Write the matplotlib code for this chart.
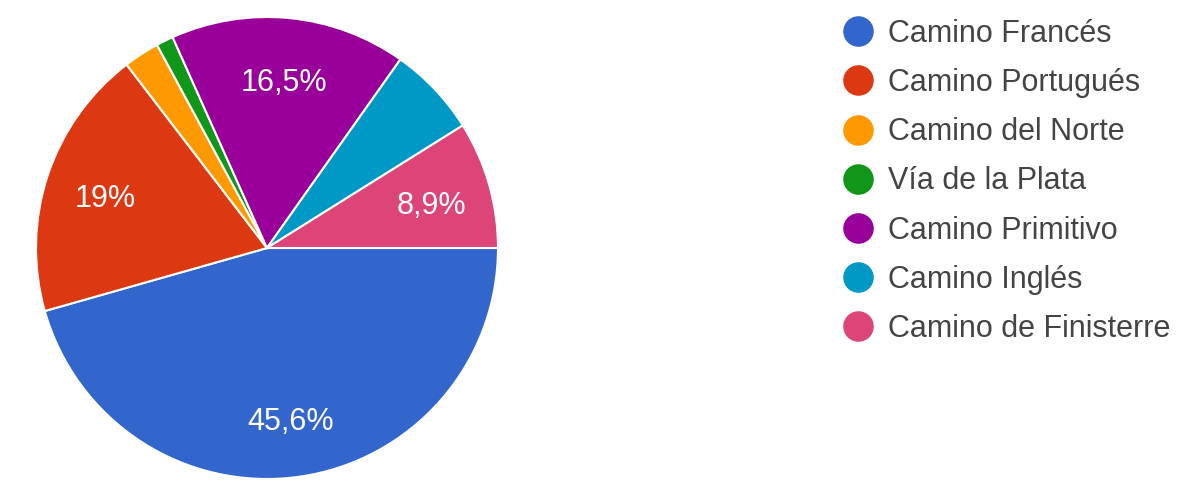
import matplotlib
matplotlib.use("Agg")
import matplotlib.pyplot as plt
from matplotlib.lines import Line2D

plt.rcParams["font.family"] = ["Liberation Sans", "DejaVu Sans"]

# data
routes = ["Camino Francés", "Camino Portugués", "Camino del Norte", "Vía de la Plata",
          "Camino Primitivo", "Camino Inglés", "Camino de Finisterre"]
shares = [45.6, 19.0, 2.5, 1.2, 16.5, 6.3, 8.9]
colors = ["#3366cc", "#dc3912", "#ff9900", "#109618", "#990099", "#0099c6", "#dd4477"]


def pct_label(p):
    if p < 8:
        return ""
    s = f"{p:.1f}".rstrip("0").rstrip(".")
    return s.replace(".", ",") + "%"


fig = plt.figure(figsize=(12, 4.94), dpi=100)
ax = fig.add_axes([36 / 1200, 15 / 494, 462 / 1200, 462 / 494])
wedges, texts, autotexts = ax.pie(
    shares, colors=colors, startangle=0, counterclock=False,
    autopct=pct_label, pctdistance=0.74,
    wedgeprops=dict(edgecolor="white", linewidth=1.5),
    textprops=dict(color="white", fontsize=22),
)
# labels sit a little lower than matplotlib's centred placement
for t in autotexts:
    x, y = t.get_position()
    t.set_position((x, y - 0.022))
ax.set_xlim(-1, 1)
ax.set_ylim(-1, 1)
ax.set_aspect("equal")

handles = [Line2D([], [], marker="o", linestyle="", markersize=21,
                  markerfacecolor=c, markeredgecolor=c) for c in colors]
fig.legend(handles, routes, loc="upper left", bbox_to_anchor=(837 / 1200, 1 - 19 / 494),
           frameon=False, fontsize=22, labelcolor="#444444",
           handletextpad=0.30, labelspacing=0.627, borderaxespad=0, borderpad=0,
           handlelength=1.36)

fig.savefig("out.png", dpi=100)
